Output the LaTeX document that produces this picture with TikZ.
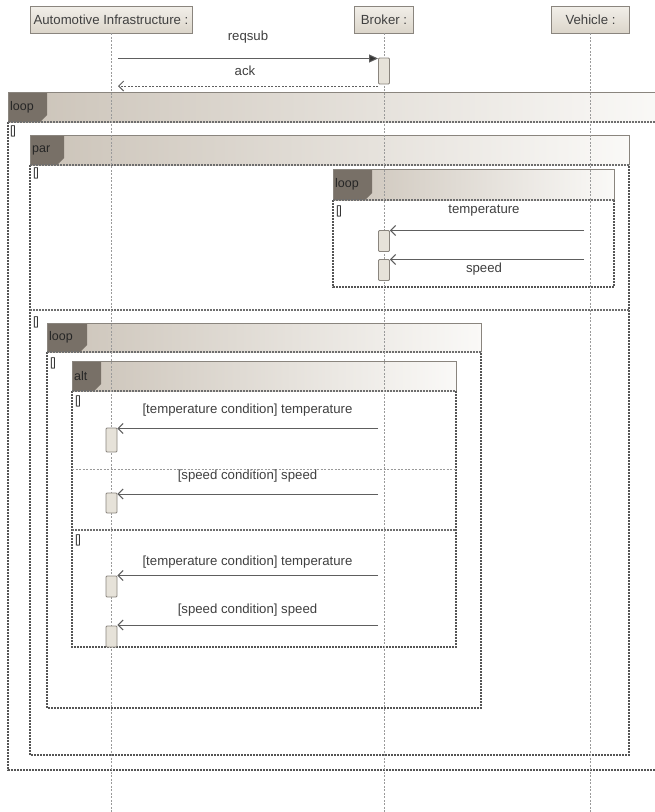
\documentclass[tikz,border=0pt]{standalone}
\usepackage{fontspec}
\setmainfont{Liberation Sans}
\usetikzlibrary{arrows.meta}
\definecolor{txt}{HTML}{404040}
\definecolor{hdrL}{HTML}{CBC3B8}
\definecolor{hdrR}{HTML}{FAF9F7}
\definecolor{tabc}{HTML}{787067}
\definecolor{boxline}{HTML}{8A857E}
\definecolor{headT}{HTML}{F2EFE9}
\definecolor{headB}{HTML}{DBD5CA}
\definecolor{actfill}{HTML}{E6E2D9}
\definecolor{msgc}{HTML}{5E5E5E}
\definecolor{framec}{HTML}{555555}
\definecolor{lifec}{HTML}{9A9A9A}
\tikzset{
  lifehead/.style={draw=boxline, line width=0.9pt, top color=headT, bottom color=headB,
    minimum height=27pt, inner sep=2pt, text=txt},
  lifeline/.style={draw=lifec, line width=0.8pt, dash pattern=on 2pt off 1.5pt},
  actbox/.style={draw=boxline, fill=actfill, line width=0.9pt, rounded corners=1pt,
    minimum width=11pt, inner sep=0pt},
  syncmsg/.style={draw=msgc, line width=1pt, -{Triangle[length=9pt,width=8pt,fill=black!80]}},
  asyncmsg/.style={draw=msgc, line width=1pt, -{Straight Barb[length=5pt,width=10pt]}},
  replymsg/.style={draw=msgc, line width=1pt, dash pattern=on 2pt off 1.5pt, -{Straight Barb[length=5pt,width=10pt]}},
  msglabel/.style={text=txt, inner sep=0pt},
  hdrline/.style={draw=boxline, line width=1pt},
  framedash/.style={draw=framec, line width=1.2pt, dash pattern=on 2pt off 1pt},
  sepdash/.style={draw=framec!85, line width=1.1pt, dash pattern=on 2pt off 1pt},
  lightsep/.style={draw=black!40, line width=0.9pt, dash pattern=on 2pt off 1.5pt},
  tablabel/.style={text=black!85, inner sep=0pt, font=\fontsize{12.5}{14}\selectfont},
  guard/.style={text=black!80, inner sep=0pt, font=\fontsize{12}{14}\selectfont},
}
\newcommand\umlframe[8]{%
  \fill[white] (#2,#3) rectangle (#4,#5);
  \shade[left color=hdrL, right color=hdrR] (#2,#3) rectangle (#4,#6);
  \fill[tabc] (#2,#3) -- (#7,#3) -- (#7,#6-7) -- (#7-7,#6) -- (#2,#6) -- cycle;
  \draw[hdrline] (#2,#6) -- (#2,#3) -- (#4,#3) -- (#4,#6);
  \draw[framedash] (#2,#6) -- (#2,#5) -- (#4,#5) -- (#4,#6);
  \draw[sepdash] (#2,#6) -- (#4,#6);
  \node[tablabel, anchor=west] (#1) at (#2+2,{(#3+#6)/2}) {#8};
}
\begin{document}
\begin{tikzpicture}[x=1pt,y=-1pt, font=\fontsize{13.2}{15}\selectfont]
\fill[white] (0,0) rectangle (654,812);
\useasboundingbox (0,0) rectangle (654,812);

% frames
\umlframe{fLoopA}{8}{92}{662}{770}{122}{47}{loop}
\node[guard, anchor=west] (gA) at (10,131) {[\kern-1pt]};
\umlframe{fPar}{30}{135}{629}{755}{165}{64}{par}
\node[guard, anchor=west] (gP1) at (33,173) {[\kern-1pt]};
\draw[sepdash] (30,310) -- (629,310);
\node[guard, anchor=west] (gP2) at (33,322) {[\kern-1pt]};
\umlframe{fLoopB}{333}{169}{614}{287}{200}{372}{loop}
\node[guard, anchor=west] (gB) at (336,211) {[\kern-1pt]};
\umlframe{fLoopC}{47}{323}{481}{708}{352}{87}{loop}
\node[guard, anchor=west] (gC) at (50,363) {[\kern-1pt]};
\umlframe{fAlt}{72}{361}{456}{647}{391}{101}{alt}
\node[guard, anchor=west] (gD1) at (75,401) {[\kern-1pt]};
\draw[lightsep] (72,469) -- (456,469);
\draw[sepdash] (72,530) -- (456,530);
\node[guard, anchor=west] (gD2) at (75,540) {[\kern-1pt]};

% lifelines
\node[lifehead, minimum width=162pt] (ai) at (111,19.5) {Automotive Infrastructure :};
\node[lifehead, minimum width=59pt] (br) at (384,19.5) {Broker :};
\node[lifehead, minimum width=78pt] (vh) at (590.5,19.5) {Vehicle :};
\coordinate (aiEnd) at (111,812);
\coordinate (brEnd) at (384,812);
\coordinate (vhEnd) at (590.5,812);
\draw[lifeline] (ai.south) -- (aiEnd);
\draw[lifeline] (br.south) -- (brEnd);
\draw[lifeline] (vh.south) -- (vhEnd);

% reqsub / ack
\node[actbox, minimum height=26pt] (bA) at (384,71) {};
\coordinate (rq0) at (118,58.5);
\coordinate (ak0) at (118,86);
\draw[syncmsg] (rq0) -- (rq0 -| bA.west);
\node[msglabel] (lrq) at (248,37) {reqsub};
\draw[replymsg] (ak0 -| bA.west) -- (ak0);
\node[msglabel] (lak) at (245,71) {ack};

% loop in par (vehicle -> broker)
\node[actbox, minimum height=21pt] (bB) at (384,241) {};
\node[actbox, minimum height=21pt] (bC) at (384,270) {};
\coordinate (v1) at (584,230.5);
\coordinate (v2) at (584,259.5);
\draw[asyncmsg] (v1) -- (v1 -| bB.east);
\draw[asyncmsg] (v2) -- (v2 -| bC.east);
\node[msglabel] (lt1) at (484,211) {temperature};
\node[msglabel] (ls1) at (484,269) {speed};

% alt messages (broker -> infrastructure)
\node[actbox, minimum height=24pt] (a1) at (111.5,440) {};
\node[actbox, minimum height=20pt] (a2) at (111.5,503) {};
\node[actbox, minimum height=21pt] (a3) at (111.5,586.5) {};
\node[actbox, minimum height=21pt] (a4) at (111.5,636.5) {};
\coordinate (m1) at (378,428.5);
\coordinate (m2) at (378,494);
\coordinate (m3) at (378,575.5);
\coordinate (m4) at (378,625);
\draw[asyncmsg] (m1) -- (m1 -| a1.east);
\draw[asyncmsg] (m2) -- (m2 -| a2.east);
\draw[asyncmsg] (m3) -- (m3 -| a3.east);
\draw[asyncmsg] (m4) -- (m4 -| a4.east);
\node[msglabel] (l1) at (247.5,410) {[temperature condition] temperature};
\node[msglabel] (l2) at (247.5,476) {[speed condition] speed};
\node[msglabel] (l3) at (247.5,562) {[temperature condition] temperature};
\node[msglabel] (l4) at (247.5,610) {[speed condition] speed};
\end{tikzpicture}
\end{document}
